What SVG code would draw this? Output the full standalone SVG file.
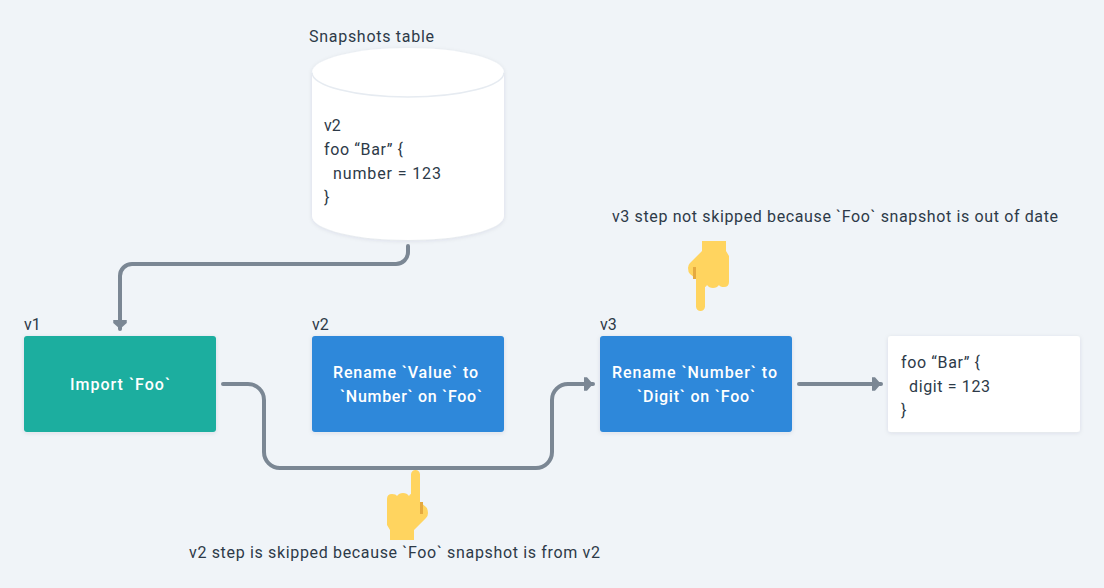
<svg xmlns="http://www.w3.org/2000/svg" width="1104" height="588" viewBox="0 0 1104 588">
<style>
text{font-family:"Roboto","Liberation Sans",sans-serif;font-size:16px;fill:#2d3a48}
.w{fill:#fff;font-weight:500;text-anchor:middle}
.c{fill:none;stroke:#7b8794;stroke-width:4;stroke-linecap:round;stroke-linejoin:round}
.s{filter:url(#sh)}
</style>
<defs>
<filter id="sh" x="-10%" y="-10%" width="120%" height="125%"><feDropShadow dx="0" dy="1" stdDeviation="2" flood-color="#323f4b" flood-opacity=".1"/></filter>
<marker id="a" markerUnits="userSpaceOnUse" markerWidth="10" markerHeight="14" refX="9.500" refY="7" orient="auto"><path d="M0 0.250H3.500L9.500 7L3.500 13.750H0Z" fill="#7b8794"/></marker>
<g id="hand"><path fill="#ffd45f" d="M702 241H726V251L729 256V282Q729 287 724 287Q720 287 719 285Q717 288 713 288Q709 288 707 285Q706 287 705 287V306.500A4.500 4.500 0 0 1 696 306.500V279L690 274Q688 272 688 268Q688 265 690 263L702 251Z"/><rect x="693" y="267" width="3" height="12" fill="#e5a93f"/></g>
</defs>
<rect width="1104" height="588" fill="#f0f4f8"/>
<g id="connectors">
<path class="c" marker-end="url(#a)" d="M408 246V252A12 12 0 0 1 396 264H132A12 12 0 0 0 120 276V329"/>
<path class="c" marker-end="url(#a)" d="M223 384H248A16 16 0 0 1 264 400V452A16 16 0 0 0 280 468H536A16 16 0 0 0 552 452V400A16 16 0 0 1 568 384H593"/>
<path class="c" marker-end="url(#a)" d="M799 384H881"/>
</g>
<g id="snapshots-table">
<path class="s" fill="#fff" d="M312 72.500A96 24.500 0 0 1 504 72.500V216A96 24 0 0 1 312 216Z"/>
<path fill="none" stroke="#e6ebf1" stroke-width="1.500" d="M312 72.500A96 24.500 0 0 0 504 72.500"/>
<text x="309" y="42" textLength="125">Snapshots table</text>
<text x="324" y="131">v2</text>
<text x="324" y="155" textLength="79">foo “Bar” {</text>
<text x="333" y="179" textLength="108">number = 123</text>
<text x="324" y="203">}</text>
</g>
<g id="import-foo">
<rect class="s" x="24" y="336" width="192" height="96" rx="3" fill="#1aae9f"/>
<text x="24" y="330">v1</text>
<text class="w" x="120" y="390" textLength="100">Import `Foo`</text>
</g>
<g id="rename-value">
<rect class="s" x="312" y="336" width="192" height="96" rx="3" fill="#2d88da"/>
<text x="312" y="330">v2</text>
<text class="w" x="405.500" y="378" textLength="145">Rename `Value` to</text>
<text class="w" x="411" y="402" textLength="142">`Number` on `Foo`</text>
</g>
<g id="rename-number">
<rect class="s" x="600" y="336" width="192" height="96" rx="3" fill="#2d88da"/>
<text x="600" y="330">v3</text>
<text class="w" x="694.500" y="378" textLength="165">Rename `Number` to</text>
<text class="w" x="696" y="402" textLength="118">`Digit` on `Foo`</text>
</g>
<g id="result">
<rect class="s" x="888" y="336" width="192" height="96" rx="3" fill="#fff"/>
<text x="901" y="368" textLength="79">foo “Bar” {</text>
<text x="909" y="392" textLength="81">digit = 123</text>
<text x="901" y="416">}</text>
</g>
<g id="note-top">
<text x="612" y="222" textLength="446">v3 step not skipped because `Foo` snapshot is out of date</text>
<use href="#hand"/>
</g>
<g id="note-bottom">
<text x="189" y="558" textLength="411">v2 step is skipped because `Foo` snapshot is from v2</text>
<use href="#hand" transform="translate(1116 781) rotate(180)"/>
</g>
</svg>
